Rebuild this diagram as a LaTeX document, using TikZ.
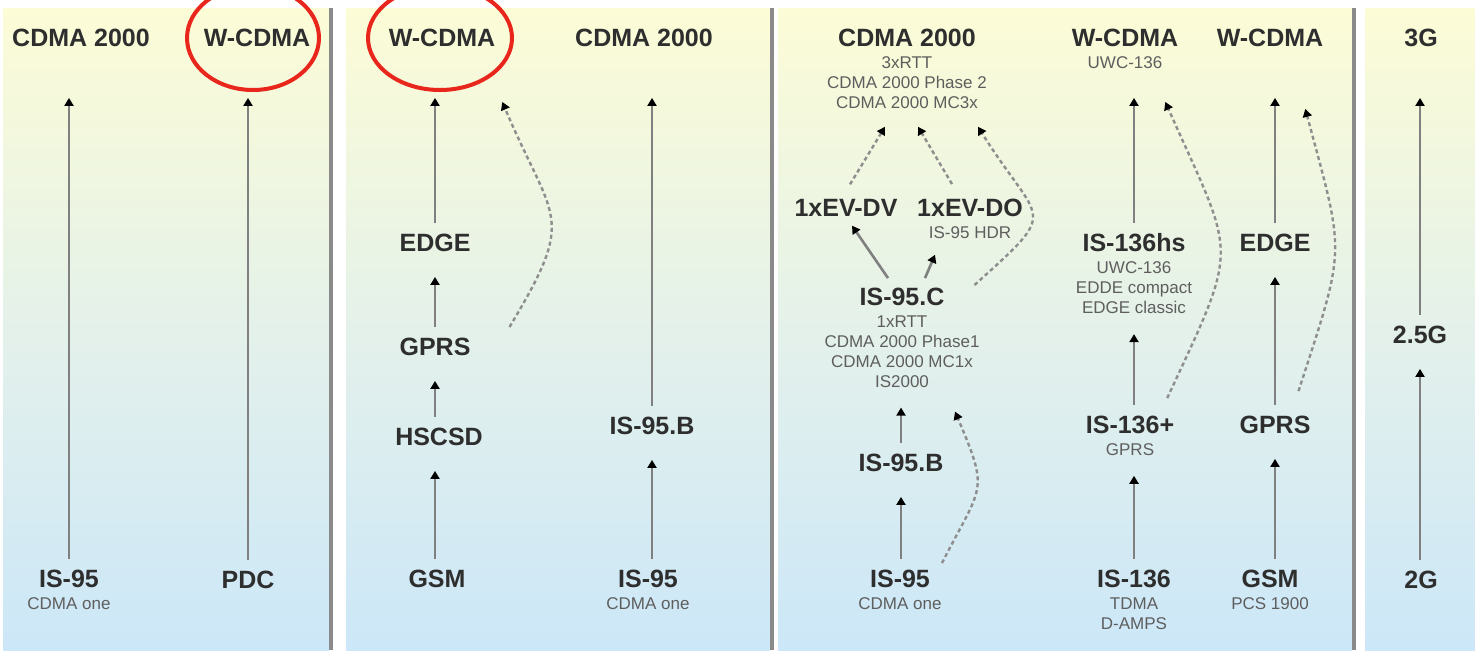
\documentclass[tikz,border=0pt]{standalone}
\usepackage{fontspec}
\setmainfont{Liberation Sans}
\usepackage{xcolor}
\usepackage{tikz}
\usetikzlibrary{arrows.meta, positioning}
\definecolor{ink}{HTML}{2E2E2E}
\definecolor{inkgray}{HTML}{5E5E5E}
\definecolor{linegray}{HTML}{808080}
\definecolor{dashgray}{HTML}{8E8E8E}
\definecolor{panelTop}{HTML}{FCFCD6}
\definecolor{panelMid}{HTML}{E4F1EA}
\definecolor{panelBot}{HTML}{CCE7F8}
\definecolor{ringRed}{HTML}{E8261C}
\definecolor{barGray}{HTML}{8A8A8A}

\begin{document}
\begin{tikzpicture}[x=0.5pt, y=0.5pt,
    panel/.style={top color=panelTop, bottom color=panelBot, middle color=panelMid, draw=none},
    bar/.style={draw=barGray, line width=2.2pt},
    tech/.style={font=\fontsize{12.5}{15}\selectfont\bfseries, text=ink},
    note/.style={font=\fontsize{8.5}{10}\selectfont, text=inkgray, align=center, inner sep=1pt},
    up/.style={->, >={Triangle[length=4pt, width=4.5pt, color=black]}, draw=linegray, line width=1.3pt, shorten <=2pt, shorten >=9pt},
    hdrup/.style={up, shorten >=22pt},
    diag/.style={->, >={Triangle[length=4pt, width=4.5pt, color=black]}, draw=linegray, line width=1.3pt},
    hop/.style={->, >={Triangle[length=4pt, width=4.5pt, color=black]}, draw=dashgray, line width=1.2pt, dash pattern=on 2pt off 1.5pt},
    ring/.style={draw=ringRed, line width=2pt},
]
    \useasboundingbox (0,0) rectangle (1475,650);
    \fill[white] (0,0) rectangle (1475,650);

    % panels
    \shade[panel] (3,0) rectangle (329,642);
    \shade[panel] (346,0) rectangle (770,642);
    \shade[panel] (778,0) rectangle (1352,642);
    \shade[panel] (1365,0) rectangle (1475,642);
    \draw[bar] (331,0) -- (331,642);
    \draw[bar] (772,0) -- (772,642);
    \draw[bar] (1354,0) -- (1354,642);

    % panel 1
    \node[tech] (cdma1) at (81,612) {CDMA 2000};
    \node[tech] (wcdma1) at (257,612) {W-CDMA};
    \node[tech] (is95a) at (69,71) {IS-95};
    \node[note, below=0pt of is95a] (is95an) {CDMA one};
    \node[tech] (pdc) at (248,70) {PDC};
    \draw[hdrup] (is95a) -- (is95a |- cdma1.south);
    \draw[hdrup] (pdc) -- (pdc |- wcdma1.south);
    \draw[ring] ([shift={(-4,0)}]wcdma1) ellipse [x radius=33pt, y radius=26pt];

    % panel 2
    \node[tech] (wcdma2) at (442,612) {W-CDMA};
    \node[tech] (cdma2) at (644,612) {CDMA 2000};
    \node[tech] (edge2) at (435,407) {EDGE};
    \node[tech] (gprs2) at (435,303) {GPRS};
    \node[tech] (hscsd2) at (439,213) {HSCSD};
    \node[tech] (gsm2) at (437,71) {GSM};
    \node[tech] (is95b2) at (652,224) {IS-95.B};
    \node[tech] (is95m2) at (648,71) {IS-95};
    \node[note, below=0pt of is95m2] (is95m2n) {CDMA one};
    \draw[up] (edge2 |- gsm2.north) -- (edge2 |- hscsd2.south);
    \draw[up] (edge2 |- hscsd2.north) -- (gprs2);
    \draw[up] (gprs2) -- (edge2);
    \draw[hdrup] (edge2) -- (edge2 |- wcdma2.south);
    \draw[up] (is95b2 |- is95m2.north) -- (is95b2);
    \draw[hdrup] (is95b2) -- (is95b2 |- cdma2.south);
    \draw[hop] ([shift={(32,20)}]gprs2.east) to[out=59, in=-67, looseness=1.5] ([shift={(0,-48)}]wcdma2.south east);
    \draw[ring] ([shift={(-2,0)}]wcdma2) ellipse [x radius=36pt, y radius=26pt];

    % panel 3
    \node[tech] (cdma3) at (907,612) {CDMA 2000};
    \node[note, below=0pt of cdma3] (cdma3n) {3xRTT\\CDMA 2000 Phase 2\\CDMA 2000 MC3x};
    \node[tech] (wcdma3) at (1125,612) {W-CDMA};
    \node[note, below=0pt of wcdma3] (wcdma3n) {UWC-136};
    \node[tech] (wcdma4) at (1270,612) {W-CDMA};
    \node[tech] (evdv) at (846,442) {1xEV-DV};
    \node[tech] (evdo) at (970,442) {1xEV-DO};
    \node[note, below=0pt of evdo] (evdon) {IS-95 HDR};
    \node[tech] (is95c) at (902,353) {IS-95.C};
    \node[note, below=0pt of is95c] (is95cn) {1xRTT\\CDMA 2000 Phase1\\CDMA 2000 MC1x\\IS2000};
    \node[tech] (is95b3) at (901,187) {IS-95.B};
    \node[tech] (is95m3) at (900,71) {IS-95};
    \node[note, below=0pt of is95m3] (is95m3n) {CDMA one};
    \node[tech] (is136hs) at (1134,407) {IS-136hs};
    \node[note, below=0pt of is136hs] (is136hsn) {UWC-136\\EDDE compact\\EDGE classic};
    \node[tech] (is136p) at (1130,225) {IS-136+};
    \node[note, below=0pt of is136p] (is136pn) {GPRS};
    \node[tech] (is136) at (1134,71) {IS-136};
    \node[note, below=0pt of is136] (is136n) {TDMA\\D-AMPS};
    \node[tech] (edge4) at (1275,407) {EDGE};
    \node[tech] (gprs4) at (1275,225) {GPRS};
    \node[tech] (gsm4) at (1270,71) {GSM};
    \node[note, below=0pt of gsm4] (gsm4n) {PCS 1900};

    \draw[up] (is95b3 |- is95m3.north) -- (is95b3);
    \draw[up] (is95b3) -- (is95b3 |- is95cn.south);
    \draw[diag] ([shift={(-14,3)}]is95c.north) -- ([shift={(6,-2)}]evdv.south);
    \draw[diag] ([shift={(23,3)}]is95c.north) -- ([shift={(-35,-14)}]evdon.south);
    \draw[hop] ([shift={(4,8)}]evdv.north) -- ([shift={(-22,-16)}]cdma3n.south);
    \draw[hop] ([shift={(-18,8)}]evdo.north) -- ([shift={(11,-16)}]cdma3n.south);
    \draw[hop] ([shift={(23,12)}]is95c.east) to[out=42, in=-58, looseness=1.9] ([shift={(71,-16)}]cdma3n.south);
    \draw[hop] ([shift={(5,0)}]is95m3.north east) to[out=63, in=-67, looseness=1.5] ([shift={(53,-22)}]is95cn.south);

    \draw[up] (is136) -- (is136 |- is136pn.south);
    \draw[up] (is136 |- is136p.north) -- (is136 |- is136hsn.south);
    \draw[hdrup] (is136hs) -- (is136hs |- wcdma3.south);
    \draw[hop] ([shift={(-14,11)}]is136p.north east) to[out=65, in=-66, looseness=1.5] ([shift={(-20,-48)}]wcdma3.south east);

    \draw[up] (gprs4 |- gsm4.north) -- (gprs4);
    \draw[up] (gprs4) -- (edge4);
    \draw[hdrup] (edge4) -- (edge4 |- wcdma4.south);
    \draw[hop] ([shift={(-19,18)}]gprs4.north east) to[out=72, in=-75, looseness=1.4] ([shift={(-25,-55)}]wcdma4.south east);

    % panel 4
    \node[tech] (g3) at (1421,612) {3G};
    \node[tech] (g25) at (1420,315) {2.5G};
    \node[tech] (g2) at (1421,70) {2G};
    \draw[up] (g25 |- g2.north) -- (g25);
    \draw[hdrup] (g25) -- (g25 |- g3.south);
\end{tikzpicture}
\end{document}
